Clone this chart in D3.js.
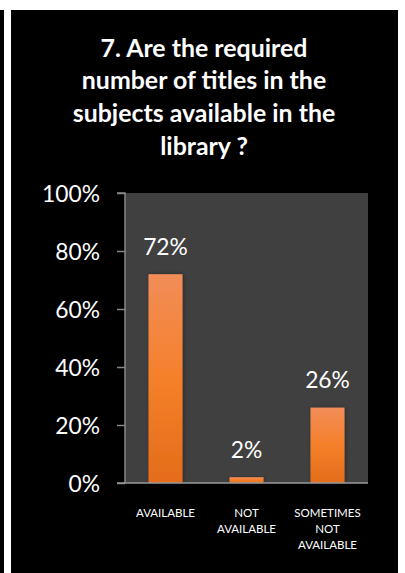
<!DOCTYPE html>
<html>
<head>
<meta charset="utf-8">
<script src="https://cdn.jsdelivr.net/npm/d3@7"></script>
<style>
  html, body { margin: 0; padding: 0; background: #ffffff; }
  svg { display: block; }
</style>
</head>
<body>
<div id="chart"></div>
<script>
const categories = ["AVAILABLE", "NOT AVAILABLE", "SOMETIMES NOT AVAILABLE"];
const categoryLines = [["AVAILABLE"], ["NOT", "AVAILABLE"], ["SOMETIMES", "NOT", "AVAILABLE"]];
const values = [0.72, 0.02, 0.26];
const valueLabels = ["72%", "2%", "26%"];
const yTicks = [0, 0.2, 0.4, 0.6, 0.8, 1.0];
const titleLines = ["7. Are the required", "number of titles in the", "subjects available in the", "library ?"];

const W = 405, H = 573;
const svg = d3.select("#chart").append("svg").attr("width", W).attr("height", H);

// page background and frame
svg.append("rect").attr("width", W).attr("height", H).attr("fill", "#ffffff");
svg.append("rect").attr("x", 0).attr("y", 10).attr("width", 4).attr("height", H - 10).attr("fill", "#000000");
svg.append("rect").attr("x", 11).attr("y", 10).attr("width", 387).attr("height", H - 10).attr("fill", "#000000");

// title
const title = svg.append("text")
  .attr("text-anchor", "middle")
  .attr("fill", "#ffffff")
  .style("font-family", "Lato, 'Open Sans', sans-serif")
  .style("font-weight", "bold")
  .style("font-size", "24.9px");
titleLines.forEach((t, i) => {
  title.append("tspan").attr("x", 204).attr("y", 56.5 + i * 32.8).text(t);
});

const margin = { left: 125, right: 368, top: 193, bottom: 483 };
const x = d3.scaleBand().domain(categories).range([margin.left, margin.right]).paddingInner(0.58).paddingOuter(0.29);
const y = d3.scaleLinear().domain([0, 1]).range([margin.bottom, margin.top]);

// plot area
svg.append("rect")
  .attr("x", margin.left).attr("y", margin.top)
  .attr("width", margin.right - margin.left).attr("height", margin.bottom - margin.top)
  .attr("fill", "#404040");

// gradient and shadow
const defs = svg.append("defs");
const grad = defs.append("linearGradient").attr("id", "barGrad").attr("x1", 0).attr("y1", 0).attr("x2", 0).attr("y2", 1);
grad.append("stop").attr("offset", "0%").attr("stop-color", "#f28d59");
grad.append("stop").attr("offset", "50%").attr("stop-color", "#f5802a");
grad.append("stop").attr("offset", "100%").attr("stop-color", "#e46c1b");
const filt = defs.append("filter").attr("id", "shadow").attr("x", "-30%").attr("y", "-10%").attr("width", "160%").attr("height", "120%");
filt.append("feDropShadow").attr("dx", 1).attr("dy", 0).attr("stdDeviation", 2).attr("flood-color", "#000").attr("flood-opacity", 0.35);

// bars
svg.append("g").selectAll("rect").data(values).join("rect")
  .attr("x", (d, i) => x(categories[i]))
  .attr("y", d => y(d))
  .attr("width", x.bandwidth())
  .attr("height", d => y(0) - y(d))
  .attr("fill", "url(#barGrad)")
  .attr("filter", "url(#shadow)");

// y axis
const yAxis = svg.append("g")
  .attr("transform", `translate(${margin.left},0)`)
  .call(d3.axisLeft(y).tickValues(yTicks).tickFormat(d3.format(".0%")).tickSize(8).tickPadding(17));
yAxis.select(".domain").attr("stroke", "#868686").attr("stroke-width", 1.5).attr("d", `M-8,${margin.top}H0V${margin.bottom}`);
yAxis.selectAll(".tick line").attr("stroke", "#868686").attr("stroke-width", 1.5);
yAxis.selectAll(".tick text")
  .attr("fill", "#ffffff")
  .attr("dy", "0.36em")
  .style("font-family", "Lato, 'Open Sans', sans-serif")
  .style("font-size", "22.8px");

// x baseline
svg.append("line")
  .attr("x1", margin.left - 8).attr("x2", margin.right)
  .attr("y1", y(0)).attr("y2", y(0))
  .attr("stroke", "#9a9a9a").attr("stroke-width", 1.5);

// value labels
svg.append("g").selectAll("text").data(values).join("text")
  .attr("x", (d, i) => x(categories[i]) + x.bandwidth() / 2)
  .attr("y", d => y(d) - 19.5)
  .attr("text-anchor", "middle")
  .attr("fill", "#ffffff")
  .style("font-family", "Lato, 'Open Sans', sans-serif")
  .style("font-size", "22.8px")
  .text((d, i) => valueLabels[i]);

// category labels
const cat = svg.append("g").selectAll("text").data(categories).join("text")
  .attr("text-anchor", "middle")
  .attr("fill", "#ffffff")
  .style("font-family", "Lato, 'Open Sans', sans-serif")
  .style("font-size", "11.5px");
cat.each(function(c, i) {
  const t = d3.select(this);
  categoryLines[i].forEach((line, j) => {
    t.append("tspan").attr("x", x(c) + x.bandwidth() / 2).attr("y", 517 + j * 15.8).text(line);
  });
});
</script>
</body>
</html>
